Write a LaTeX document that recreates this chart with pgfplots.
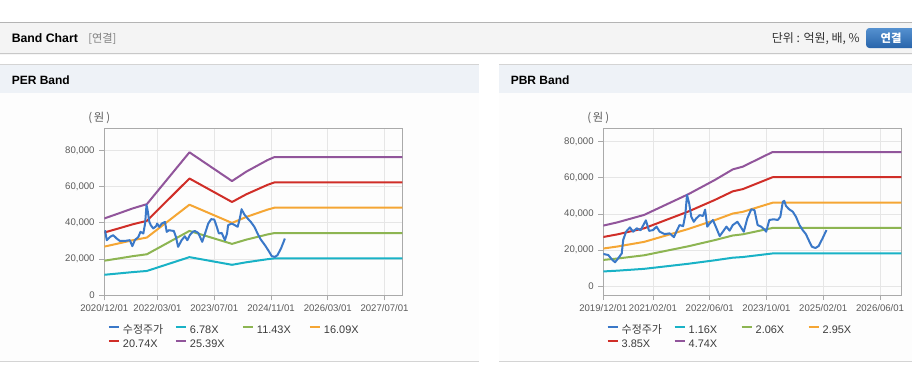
\documentclass[border=0pt]{standalone}
\usepackage{pgfplots}
\pgfplotsset{compat=1.18}
\usepackage{fontspec}
\setmainfont{Liberation Sans}
\newfontfamily\kr{Noto Sans CJK KR}

\definecolor{cPrice}{RGB}{58,120,200}
\definecolor{cCyan}{RGB}{25,178,198}
\definecolor{cGreen}{RGB}{141,181,82}
\definecolor{cOrange}{RGB}{245,166,52}
\definecolor{cRed}{RGB}{208,46,40}
\definecolor{cPurple}{RGB}{145,85,155}
\definecolor{axisgray}{RGB}{170,170,170}
\definecolor{gridgray}{RGB}{230,230,230}
\definecolor{ticktext}{RGB}{90,90,90}
\definecolor{legtext}{RGB}{60,60,60}
\definecolor{hdrbg}{RGB}{244,244,244}
\definecolor{hdrline}{RGB}{180,180,180}
\definecolor{shadowline}{RGB}{200,200,200}
\definecolor{panelhdr}{RGB}{238,242,247}
\definecolor{panelline}{RGB}{212,212,212}
\definecolor{bodybg}{RGB}{253,253,253}
\definecolor{btntop}{RGB}{85,145,208}
\definecolor{btnbot}{RGB}{40,100,170}

\newcommand\legtxt[1]{\makebox[41.25pt][l]{\hspace*{2.25pt}#1}}

\pgfplotsset{
  bandaxis/.style={
    scale only axis, width=223.5pt, xmin=0, xmax=84,
    axis line style={axisgray, line width=0.75pt},
    grid=major, grid style={gridgray, line width=0.6pt},
    major tick length=3.75pt, tick align=outside,
    tick style={axisgray, line width=0.6pt},
    xtick pos=bottom, ytick pos=left,
    ticklabel style={font=\fontsize{7.2pt}{8pt}\selectfont, text=ticktext},
    ytick={0,20000,40000,60000,80000},
    scaled y ticks=false,
    yticklabel style={/pgf/number format/.cd, fixed, 1000 sep={,}, assume math mode=true},
    legend columns=4, legend cell align=left,
    legend style={draw=none, fill=none, anchor=north west, inner sep=0pt, outer sep=0pt,
      font=\fontsize{8.2pt}{9.6pt}\selectfont, text=legtext, row sep=3pt, column sep=0pt,
      nodes={inner sep=0pt, outer sep=0pt, text height=6pt, text depth=1.5pt}},
    legend image code/.code={\draw[##1, line width=1.5pt, line cap=butt] (0pt,2.6pt) -- (7.5pt,2.6pt);},
    every axis plot/.append style={line width=1.5pt, line join=round, mark=none},
  },
}

\begin{document}
\begin{tikzpicture}[x=0.75pt,y=-0.75pt]
\path[use as bounding box] (0,0) rectangle (912,364);
\fill[white] (0,0) rectangle (912,364);
% top header bar
\fill[hdrbg] (0,22.5) rectangle (912,53.5);
\fill[gray!7] (0,53.5) rectangle (912,55);
\draw[hdrline, line width=0.75pt] (0,22.5) -- (912,22.5);
\draw[shadowline, line width=0.75pt] (0,53.5) -- (912,53.5);
\node[anchor=west, inner sep=0pt, font=\fontsize{9.2pt}{11pt}\selectfont\bfseries] at (11.5,38.5) {Band Chart};
\node[anchor=west, inner sep=0pt, text=gray, font=\fontsize{8.4pt}{10pt}\selectfont\kr] at (88,38.5) {[연결]};
\node[anchor=east, inner sep=0pt, text=black!80, font=\fontsize{9pt}{10pt}\selectfont\kr] at (860,38.5) {단위 : 억원, 배, \%};
\shade[top color=btntop, bottom color=btnbot, rounded corners=2.5pt] (866,28) rectangle (918,48);
\node[text=white, inner sep=0pt, font=\fontsize{8.5pt}{10pt}\selectfont\kr\bfseries] at (891,38.3) {연결};
% panels
\fill[panelhdr] (0,64.5) rectangle (479,92.5);
\draw[panelline, line width=0.75pt] (0,64.5) -- (479,64.5);
\fill[bodybg] (0,92.5) rectangle (479,361.5);
\draw[panelline, line width=0.75pt] (0,361.8) -- (479,361.8);
\fill[panelhdr] (499,64.5) rectangle (912,92.5);
\draw[panelline, line width=0.75pt] (499,64.5) -- (912,64.5);
\fill[bodybg] (499,92.5) rectangle (912,361.5);
\draw[panelline, line width=0.75pt] (499,361.8) -- (912,361.8);
\node[anchor=west, inner sep=0pt, font=\fontsize{9pt}{11pt}\selectfont\bfseries] at (11.5,80) {PER Band};
\node[anchor=west, inner sep=0pt, font=\fontsize{9pt}{11pt}\selectfont\bfseries] at (510.5,80) {PBR Band};
\node[anchor=west, inner sep=0pt, text=ticktext, font=\fontsize{8.5pt}{9pt}\selectfont\kr] at (88,118) {(\,원\,)};
\node[anchor=west, inner sep=0pt, text=ticktext, font=\fontsize{8.5pt}{9pt}\selectfont\kr] at (587,118) {(\,원\,)};

% ---------------- PER Band ----------------
\begin{axis}[bandaxis, at={(78.225pt,-221.475pt)}, anchor=south west,
  height=125.25pt, ymin=0, ymax=92140,
  xtick={0,15,31,47,63,79},
  xticklabels={2020/12/01,2022/03/01,2023/07/01,2024/11/01,2026/03/01,2027/07/01},
  legend style={at={(0.0124,-0.178)}}]
\addlegendimage{cPrice, line width=1.5pt}
\addlegendentry{\legtxt{\kr 수정주가}}
\addplot[cCyan] coordinates {(0,11323) (4,12055) (8,12801) (12,13431) (24,21065) (36,16828) (40,18211) (46,19920) (48,20374) (84,20374)};
\addlegendentry{\legtxt{6.78X}}
\addplot[cGreen] coordinates {(0,19088) (4,20323) (8,21580) (12,22643) (24,35513) (36,28369) (40,30701) (46,33581) (48,34347) (84,34347)};
\addlegendentry{\legtxt{11.43X}}
\addplot[cOrange] coordinates {(0,26870) (4,28608) (8,30378) (12,31874) (24,49992) (36,39935) (40,43218) (46,47272) (48,48350) (84,48350)};
\addlegendentry{\legtxt{16.09X}}
\addplot[cRed] coordinates {(0,34636) (4,36876) (8,39157) (12,41086) (24,64439) (36,51477) (40,55708) (46,60934) (48,62324) (84,62324)};
\addlegendentry{\legtxt{20.74X}}
\addplot[cPurple] coordinates {(0,42401) (4,45143) (8,47936) (12,50298) (24,78887) (36,63018) (40,68198) (46,74596) (48,76297) (84,76297)};
\addlegendentry{\legtxt{25.39X}}
\addplot[cPrice, forget plot] coordinates {
(0.2,35900) (0.7,30400) (1.6,32200) (2.5,33200) (3.5,31300) (4.4,30000) (5.8,30000)
(7.2,30400) (7.9,27100) (8.6,30400) (9.6,32200) (10.2,35000) (11.0,34100) (11.5,39600)
(11.9,49800) (12.2,47000) (12.7,40500) (13.1,38700) (13.8,36900) (14.6,38100) (14.9,39600)
(15.5,37800) (16.2,39600) (17.1,40500) (17.6,35000) (18.2,35900) (19.6,35500) (20.2,32200)
(20.8,26700) (21.8,30400) (22.7,32600) (23.4,30400) (24.1,33200) (24.9,35000) (25.5,35500)
(26.5,34400) (27.6,29500) (28.4,34100) (29.3,39600) (30.1,42000) (31.0,41800) (31.7,37800)
(32.3,34100) (33.1,34400) (34.0,30400) (34.6,34100) (34.9,38700) (35.9,39600) (36.8,38700)
(37.6,37800) (38.2,42400) (38.7,47500) (39.4,44800) (40.4,42400) (41.3,40500) (42.3,37800)
(43.2,34100) (44.1,30800) (45.3,27600) (46.2,24900) (47.2,21600) (48.1,21200) (48.8,22100)
(49.8,25800) (50.9,31300)};
\end{axis}

% ---------------- PBR Band ----------------
\begin{axis}[bandaxis, at={(452.475pt,-221.25pt)}, anchor=south west,
  height=125.0pt, ymin=-4810, ymax=87410,
  xtick={0,14,30,46,62,78},
  xticklabels={2019/12/01,2021/02/01,2022/06/01,2023/10/01,2025/02/01,2026/06/01},
  legend style={at={(0.0114,-0.18)}}]
\addlegendimage{cPrice, line width=1.5pt}
\addlegendentry{\legtxt{\kr 수정주가}}
\addplot[cCyan] coordinates {(0,8223) (4,8663) (11.5,9666) (24,12480) (31.4,14390) (36.5,15834) (39.3,16201) (47.7,18183) (84,18183)};
\addlegendentry{\legtxt{1.16X}}
\addplot[cGreen] coordinates {(0,14603) (4,15384) (11.5,17166) (24,22164) (31.4,25554) (36.5,28119) (39.3,28770) (47.7,32291) (84,32291)};
\addlegendentry{\legtxt{2.06X}}
\addplot[cOrange] coordinates {(0,20913) (4,22031) (11.5,24582) (24,31739) (31.4,36595) (36.5,40268) (39.3,41200) (47.7,46241) (84,46241)};
\addlegendentry{\legtxt{2.95X}}
\addplot[cRed] coordinates {(0,27293) (4,28752) (11.5,32082) (24,41422) (31.4,47759) (36.5,52553) (39.3,53769) (47.7,60349) (84,60349)};
\addlegendentry{\legtxt{3.85X}}
\addplot[cPurple] coordinates {(0,33600) (4,35400) (11.5,39500) (24,51000) (31.4,58800) (36.5,64700) (39.3,66200) (47.7,74300) (84,74300)};
\addlegendentry{\legtxt{4.74X}}
\addplot[cPrice, forget plot] coordinates {
(0,17900) (1.4,17300) (2.4,14900) (3.3,13300) (4.2,15500) (5.2,18200) (5.6,25600)
(6.4,30200) (7.5,32600) (8.4,30200) (9.4,32100) (10.5,31000) (12.0,36500) (12.9,30700)
(14.0,31100) (15.0,33000) (15.9,30200) (17.3,28900) (18.7,29300) (19.9,27200) (20.8,31100)
(21.5,33900) (22.5,33300) (23.1,39400) (23.6,50500) (24.2,45900) (24.8,38500) (25.5,35700)
(26.2,37600) (27.2,39400) (28.1,38900) (28.7,42400) (29.3,33000) (30.0,34800) (30.9,36700)
(31.9,32100) (32.8,27800) (33.7,30200) (34.7,33000) (35.6,30800) (36.5,33900) (37.8,35700)
(38.7,33000) (39.6,30200) (40.6,37600) (41.7,42600) (42.6,42200) (43.5,33900) (44.5,33000)
(45.4,31500) (45.9,30200) (46.8,36700) (48.0,37100) (49.2,36700) (49.9,38500) (50.6,46800)
(51.0,47300) (51.5,44400) (52.4,42600) (53.4,41300) (54.3,38500) (55.3,33900) (56.2,31100)
(57.1,28900) (58.1,24700) (58.8,21900) (59.8,21200) (60.7,22300) (61.8,26500) (62.9,31100)};
\end{axis}
\end{tikzpicture}
\end{document}
